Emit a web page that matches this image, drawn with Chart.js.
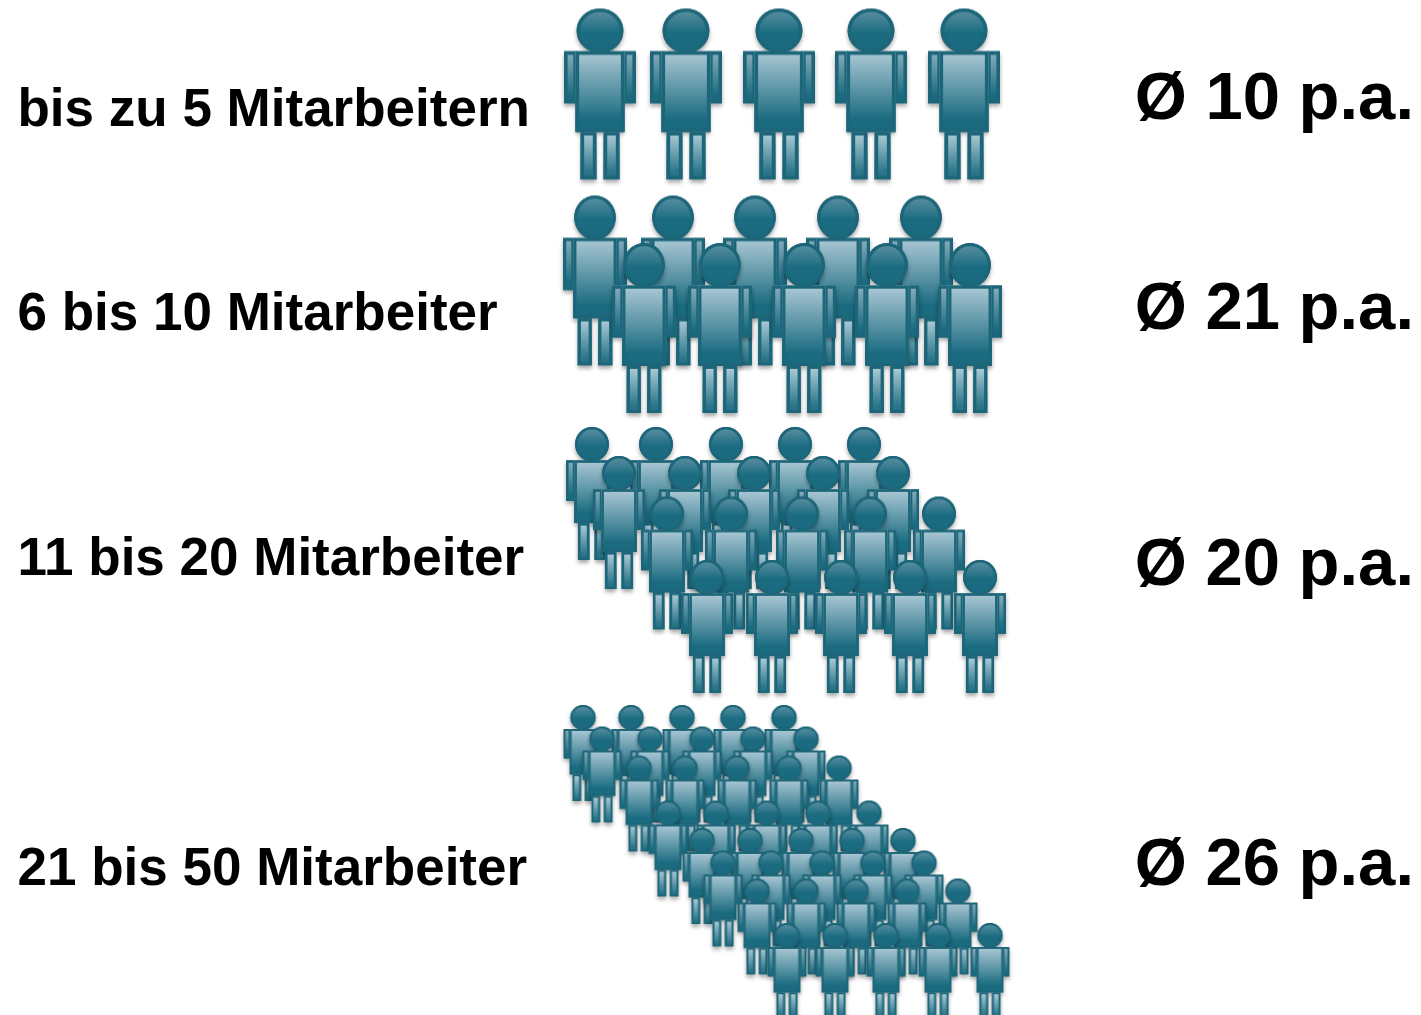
<!DOCTYPE html>
<html lang="de">
<head>
<meta charset="utf-8">
<title>Mitarbeiter</title>
<script src="https://cdn.jsdelivr.net/npm/chart.js@4"></script>
<style>
    html, body { margin: 0; background: #fff; overflow: hidden; }
    canvas { display: block; }
</style>
</head>
<body>
<canvas id="chart" width="1421" height="1015"></canvas>
<script>
const categories = ["bis zu 5 Mitarbeitern", "6 bis 10 Mitarbeiter", "11 bis 20 Mitarbeiter", "21 bis 50 Mitarbeiter"];
const averages   = ["Ø 10 p.a.", "Ø 21 p.a.", "Ø 20 p.a.", "Ø 26 p.a."];
const categoryY  = [111, 315, 560, 870];
const averageY   = [101, 311, 567, 867];

/* One entry per row of people, back row first */
const group1RowY = [94];
const group1RowX = [[600, 686, 779, 871, 964]];

const group2RowY = [280.5, 328];
const group2RowX = [
    [595, 673, 755, 838, 921],
    [644, 720, 804, 887, 970],
];

const group3RowY = [493.5, 522.5, 563, 626.5];
const group3RowX = [
    [592, 656, 726, 795, 864],
    [619, 685, 754, 823, 893],
    [667, 731, 802, 870, 939],
    [707, 772, 841, 910, 980],
];

const group4RowY = [753, 774.5, 803.5, 848.5, 876, 898.5, 926.5, 971];
const group4RowX = [
    [583, 631, 682, 733, 784],
    [602, 650, 702, 753, 806],
    [639, 685, 737, 789, 839],
    [668, 716, 767, 818, 869],
    [702, 750, 801, 852, 903],
    [723, 771, 822, 873, 924],
    [757, 806, 856, 907, 958],
    [787, 835, 886, 938, 990],
];

/* Figure is drawn once per group, then used as the point image */
function makePerson(w, h) {
    const pad = 8;
    const c = document.createElement("canvas");
    c.width  = w + pad * 2;
    c.height = h + pad * 2;
    const ctx = c.getContext("2d");
    const cx = c.width / 2;
    const lw = Math.max(1.8, w * 0.05);
    const border = "#1d6679";

    const shoulder = pad + h * 0.25;
    const armEnd   = pad + h * 0.555;
    const bodyEnd  = pad + h * 0.722;
    const feet     = pad + h;

    const parts = [
        [cx - w * 0.5,   shoulder, w * 0.18,  armEnd - shoulder,  ["#84abba", "#1a6b80"]],
        [cx + w * 0.32,  shoulder, w * 0.18,  armEnd - shoulder,  ["#84abba", "#1a6b80"]],
        [cx - w * 0.27,  bodyEnd,  w * 0.22,  feet - bodyEnd,     ["#abcad6", "#2a7589"]],
        [cx + w * 0.05,  bodyEnd,  w * 0.22,  feet - bodyEnd,     ["#abcad6", "#2a7589"]],
        [cx - w * 0.34,  shoulder, w * 0.68,  bodyEnd - shoulder, ["#a5c4d1", "#1a6b80"]],
    ];

    /* soft shadow under the whole figure */
    ctx.save();
    ctx.shadowColor = "rgba(0,0,0,0.35)";
    ctx.shadowBlur = 4;
    ctx.shadowOffsetY = 3;
    ctx.fillStyle = border;
    parts.forEach(p => ctx.fillRect(p[0], p[1], p[2], p[3]));
    ctx.beginPath();
    ctx.ellipse(cx, pad + h * 0.13, w * 0.325, h * 0.13, 0, 0, Math.PI * 2);
    ctx.fill();
    ctx.restore();

    ctx.lineWidth = lw;
    ctx.strokeStyle = border;
    parts.forEach(p => {
        const g = ctx.createLinearGradient(0, p[1], 0, p[1] + p[3]);
        g.addColorStop(0.05, p[4][0]);
        g.addColorStop(0.85, p[4][1]);
        ctx.fillStyle = g;
        ctx.fillRect(p[0], p[1], p[2], p[3]);
        ctx.strokeRect(p[0] + lw / 2, p[1] + lw / 2, p[2] - lw, p[3] - lw);
    });

    const hg = ctx.createLinearGradient(0, pad, 0, pad + h * 0.26);
    hg.addColorStop(0, "#5f92a4");
    hg.addColorStop(0.55, "#1b6c81");
    hg.addColorStop(1, "#1a6b80");
    ctx.fillStyle = hg;
    ctx.beginPath();
    ctx.ellipse(cx, pad + h * 0.13, w * 0.325 - lw / 2, h * 0.13 - lw / 2, 0, 0, Math.PI * 2);
    ctx.fill();
    ctx.stroke();
    return c;
}

const groups = [
    { rowY: group1RowY, rowX: group1RowX, img: makePerson(72, 171) },
    { rowY: group2RowY, rowX: group2RowX, img: makePerson(64, 170) },
    { rowY: group3RowY, rowX: group3RowX, img: makePerson(52, 133) },
    { rowY: group4RowY, rowX: group4RowX, img: makePerson(39, 96) },
];

const datasets = [];
groups.forEach(g => {
    g.rowY.forEach((y, i) => {
        datasets.push({
            data: g.rowX[i].map(x => ({ x, y })),
            pointStyle: g.img,
            pointRadius: 10,
            showLine: false,
            clip: false,
            order: -(datasets.length),   // front rows on top
        });
    });
});

const labelFont = "'Liberation Sans', Arial, sans-serif";

/* Labels sit inside the plot, so the axes must not take any room */
function noRoom(axis) {
    axis.width = 0;
    axis.paddingTop = 0;
    axis.paddingBottom = 0;
}

new Chart(document.getElementById("chart"), {
    type: "scatter",
    data: { datasets },
    options: {
        responsive: false,
        animation: false,
        events: [],
        layout: { padding: 0, autoPadding: false },
        plugins: { legend: { display: false }, tooltip: { enabled: false } },
        scales: {
            x: { type: "linear", min: 0, max: 1421, display: false },
            y: {
                type: "linear", position: "left", min: 0, max: 1015, reverse: true,
                grid: { display: false, drawTicks: false },
                border: { display: false },
                afterFit: noRoom,
                afterBuildTicks: axis => { axis.ticks = categoryY.map(value => ({ value })); },
                ticks: {
                    mirror: true, padding: 17.5, autoSkip: false, maxRotation: 0,
                    color: "#000",
                    font: { family: labelFont, size: 53, weight: "bold" },
                    callback: (v, i) => categories[i],
                },
            },
            y2: {
                type: "linear", position: "right", min: 0, max: 1015, reverse: true,
                grid: { display: false, drawTicks: false },
                border: { display: false },
                afterFit: noRoom,
                afterBuildTicks: axis => { axis.ticks = averageY.map(value => ({ value })); },
                ticks: {
                    mirror: true, padding: -7, autoSkip: false, maxRotation: 0,   // negative pulls the text left here
                    color: "#000",
                    font: { family: labelFont, size: 67, weight: "bold" },
                    callback: (v, i) => averages[i],
                },
            },
        },
    },
});
</script>
</body>
</html>
